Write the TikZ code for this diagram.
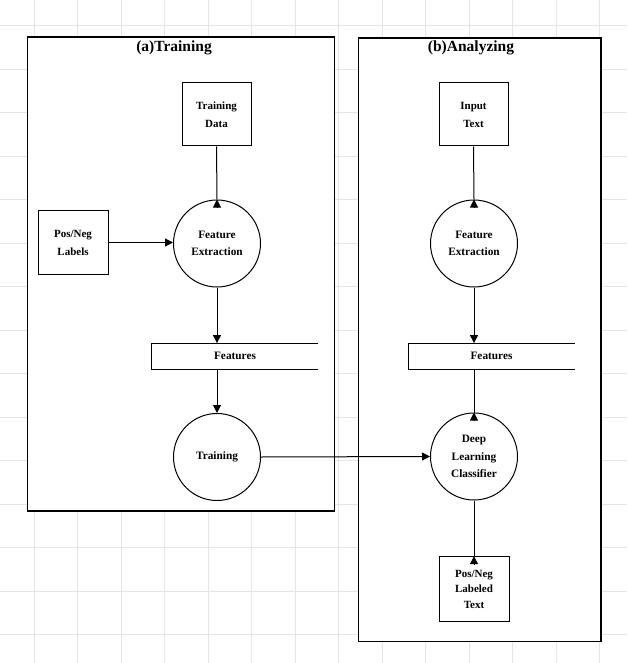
\documentclass[tikz,border=0pt]{standalone}
\usepackage{fontspec}
\setmainfont{Liberation Serif}
\usetikzlibrary{arrows.meta}
\begin{document}
\begin{tikzpicture}[x=1pt,y=-1pt,
  gridline/.style={draw=black!10, line width=0.8pt},
  panel/.style={draw=black, line width=1.6pt, fill=white, inner sep=0pt, anchor=north west},
  paneltitle/.style={font=\bfseries\fontsize{15.5}{18}\selectfont, inner sep=0pt},
  boxnode/.style={draw=black, line width=1pt, fill=white, minimum width=69pt, minimum height=63pt, inner sep=0pt, align=center, font=\bfseries\fontsize{11}{18}\selectfont},
  procnode/.style={circle, draw=black, line width=1pt, fill=white, minimum size=87pt, inner sep=0pt, align=center, font=\bfseries\fontsize{11.3}{17.5}\selectfont},
  storenode/.style={minimum width=166pt, minimum height=26pt, inner sep=0pt, font=\bfseries\fontsize{11.3}{13}\selectfont},
  storeline/.style={draw=black, line width=1pt},
  conn/.style={line width=1pt},
  arr/.style={line width=1pt, -{Triangle[length=8pt,width=8pt]}}
]
\useasboundingbox (0,0) rectangle (627,663);
\fill[white] (0,0) rectangle (627,663);
\foreach \i in {0,...,13} \draw[gridline] ({34.3+43.5*\i},0) -- ++(0,663);
\foreach \j in {0,...,14} \draw[gridline] (0,{25.7+43.5*\j}) -- ++(627,0);

% panels
\node[panel, minimum width=307pt, minimum height=473.5pt] (pa) at (26.5,36.5) {};
\node[panel, minimum width=242.5pt, minimum height=603.5pt] (pb) at (357.5,37) {};
\node[paneltitle] (ta) at (174,48) {(a)Training};
\node[paneltitle] (tb) at (471,48) {(b)Analyzing};

% (a) Training
\node[boxnode] (td) at (216.5,114.5) {Training\\Data};
\node[boxnode, minimum width=70pt, minimum height=64pt] (lab) at (73,242.5) {Pos/Neg\\Labels};
\node[procnode] (fe1) at (217,243.5) {Feature\\Extraction};
\node[storenode] (fs1) at (235,356.3) {Features};
\draw[storeline] (fs1.north east) -- (fs1.north west) -- (fs1.south west) -- (fs1.south east);
\node[procnode] (tr) at (217,457) {Training};

% (b) Analyzing
\node[boxnode] (it) at (473.5,114.5) {Input\\Text};
\node[procnode] (fe2) at (474,243.5) {Feature\\Extraction};
\node[storenode] (fs2) at (491.5,356.3) {Features};
\draw[storeline] (fs2.north east) -- (fs2.north west) -- (fs2.south west) -- (fs2.south east);
\node[procnode] (dlc) at (474,456.5) {Deep\\Learning\\Classifier};
\node[boxnode, minimum width=70pt, minimum height=65pt, font=\bfseries\fontsize{11}{15.5}\selectfont] (pnt) at (474,589.2) {Pos/Neg\\Labeled\\Text};

% connectors (a)
\draw[conn] (td.south) -- (fe1.north);
\draw[arr] ([yshift=-8pt]fe1.north) -- (fe1.north);
\draw[arr] (lab.east) -- (lab.east -| fe1.west);
\draw[arr] (fe1.south) -- (fe1.south |- fs1.north);
\draw[arr] (fe1.south |- fs1.south) -- (tr.north);
\draw[arr] (tr.east) -- (dlc.west);

% connectors (b)
\draw[conn] (it.south) -- (fe2.north);
\draw[arr] ([yshift=-8pt]fe2.north) -- (fe2.north);
\draw[arr] (fe2.south) -- (fe2.south |- fs2.north);
\draw[conn] (fe2.south |- fs2.south) -- (dlc.north);
\draw[arr] ([yshift=-8pt]dlc.north) -- (dlc.north);
\draw[conn] (dlc.south) -- (pnt.north);
\draw[arr] ([yshift=-8pt]pnt.north) -- (pnt.north);
\end{tikzpicture}
\end{document}
